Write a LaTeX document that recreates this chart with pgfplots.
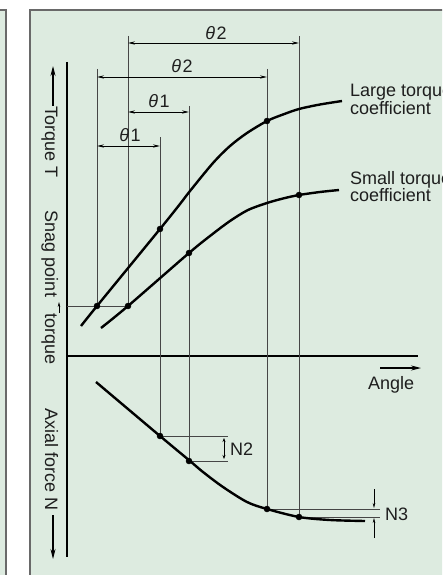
\documentclass[border=0pt]{standalone}
\usepackage{pgfplots}
\pgfplotsset{compat=1.18}
\usetikzlibrary{arrows.meta}
\usepackage{fontspec}
\setmainfont{Liberation Sans}
\definecolor{bg}{RGB}{221,235,224}
\definecolor{frm}{RGB}{105,105,105}
\definecolor{ln}{RGB}{70,70,70}
\definecolor{tx}{RGB}{30,30,30}
\begin{document}
\begin{tikzpicture}[
  lbl/.style={font=\fontsize{18}{18}\selectfont, inner sep=0pt, text=tx},
  thin/.style={ln, line width=0.85pt},
  dim/.style={black, line width=0.8pt, {Stealth[length=7pt,width=3.2pt]}-{Stealth[length=7pt,width=3.2pt]}},
  big/.style={black, line width=1.1pt, -{Stealth[length=10pt,width=5pt]}},
  sm/.style={black, line width=0.7pt, -{Stealth[length=5pt,width=2.6pt]}},
]
\begin{axis}[
  at={(0,0)}, anchor=south west,
  width=442pt, height=575pt, scale only axis,
  xmin=0, xmax=442, ymin=0, ymax=575, y dir=reverse,
  hide axis, clip=true,
]
% backgrounds and frames
\fill[white] (0,0) rectangle (442,575);
\fill[bg] (-5,10) rectangle (6,580);
\draw[frm, line width=1.6pt] (-5,10) -- (6,10) -- (6,580);
\fill[bg] (30,10) rectangle (450,580);
\draw[frm, line width=1.8pt] (30,580) -- (30,10) -- (450,10);

% axes
\addplot[black, line width=1.1pt] coordinates {(67,62) (67,557)};
\addplot[black, line width=1.1pt] coordinates {(67,356) (418,356)};
\addplot[thin] coordinates {(67,306) (128,306)};

% vertical extension lines
\addplot[thin] coordinates {(97,69) (97,306)};
\addplot[thin] coordinates {(128,36) (128,306)};
\addplot[thin] coordinates {(160,137) (160,436)};
\addplot[thin] coordinates {(189,106) (189,461)};
\addplot[thin] coordinates {(267,69) (267,509)};
\addplot[thin] coordinates {(299,36) (299,517)};

% N2 / N3 horizontal lines
\addplot[thin] coordinates {(160,436) (228,436)};
\addplot[thin] coordinates {(189,461) (228,461)};
\addplot[thin] coordinates {(267,509) (380,509)};
\addplot[thin] coordinates {(299,517) (380,517)};

% dimension arrows
\draw[dim] (128,43) -- (299,43);
\draw[dim] (97,77) -- (267,77);
\draw[dim] (128,112) -- (189,112);
\draw[dim] (97,146) -- (160,146);

% curves
\addplot[black, line width=2.4pt, smooth] coordinates {
 (81,326) (97,306) (160,229) (180,204) (190,191) (213,163) (230,146) (247,133) (267,121) (283,114.5) (299,109) (320,104.5) (342,101)};
\addplot[black, line width=2.4pt, smooth] coordinates {
 (101,328) (128,306) (189,253) (210,236) (230,221) (248,210) (267,203) (283,198.5) (299,195) (320,192) (339,190)};
\addplot[black, line width=2.4pt, smooth] coordinates {
 (96,382) (160,436) (190,461) (203,472) (223,487) (247,502) (267,509) (299,517) (330,520) (365,521)};

% points
\addplot[only marks, mark=*, mark size=3pt, black] coordinates {
 (97,306) (160,229) (267,121) (128,306) (189,253) (299,195)
 (160,436) (189,461) (267,509) (299,517)};

% side arrows
\draw[big] (53,106) -- (53,66);
\draw[big] (53,515) -- (53,559);
\draw[sm] (59,313) -- (59,302);
\draw[big] (380,368) -- (421,368);
\draw[{Stealth[length=4pt,width=3pt]}-{Stealth[length=4pt,width=3pt]}, black, line width=0.7pt] (224,438) -- (224,459);
\draw[sm] (374,489) -- (374,508);
\draw[sm] (374,538) -- (374,518);

% labels
\node[lbl, rotate=-90, anchor=base] at (45,142) {Torque T};
\node[lbl, rotate=-90, anchor=base] at (45,254) {Snag point};
\node[lbl, rotate=-90, anchor=base] at (45,339) {torque};
\node[lbl, rotate=-90, anchor=base] at (45,460) {Axial force N};
\node[lbl, anchor=base west] at (368,389) {Angle};
\node[lbl, anchor=base] at (216,40) {\textit{θ}\kern1.5pt 2};
\node[lbl, anchor=base] at (182,73) {\textit{θ}\kern1.5pt 2};
\node[lbl, anchor=base] at (159,108) {\textit{θ}\kern1.5pt 1};
\node[lbl, anchor=base] at (130,142) {\textit{θ}\kern1.5pt 1};
\node[lbl, anchor=base west] at (230,455) {N2};
\node[lbl, anchor=base west] at (385,520) {N3};
\node[lbl, anchor=base west] at (350,97) {Large torque};
\node[lbl, anchor=base west] at (350,115) {coefficient};
\node[lbl, anchor=base west] at (350,184) {Small torque};
\node[lbl, anchor=base west] at (350,201) {coefficient};
\end{axis}
\pgfresetboundingbox
\useasboundingbox (0,0) rectangle (442pt,575pt);
\end{tikzpicture}
\end{document}
